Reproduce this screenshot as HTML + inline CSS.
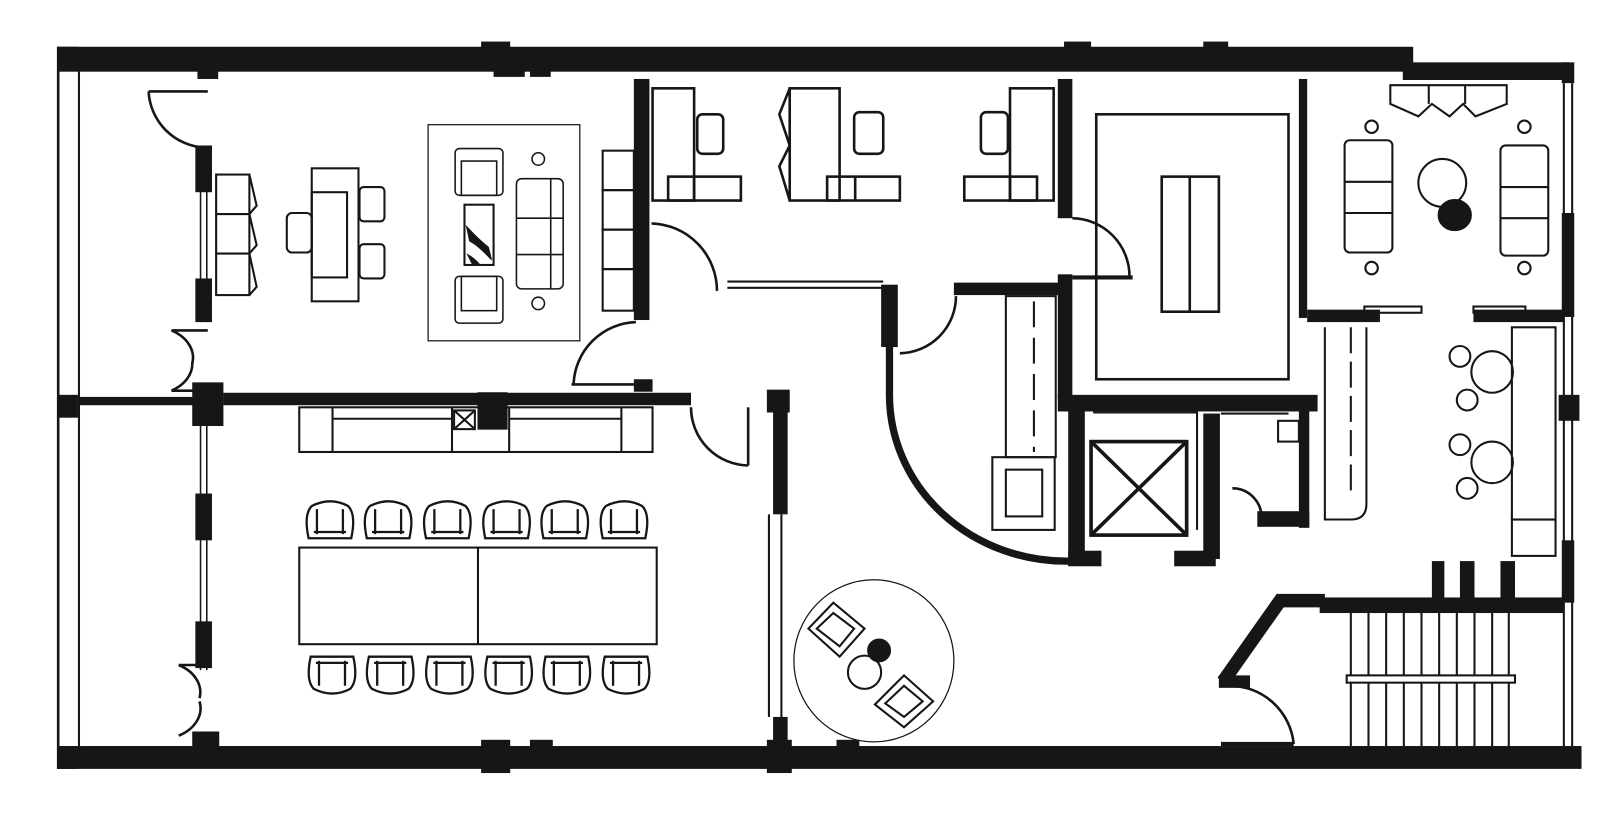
<!DOCTYPE html>
<html><head><meta charset="utf-8"><style>html,body{margin:0;padding:0;background:#fff}svg{display:block}</style></head>
<body>
<svg width="1621" height="825" viewBox="0 0 1560 794" preserveAspectRatio="none" xmlns="http://www.w3.org/2000/svg">
<g fill="#161616" stroke="none">
<rect x="55" y="45" width="1305" height="24"/>
<rect x="463" y="40" width="28" height="8"/><rect x="1024" y="40" width="26" height="8"/><rect x="1158" y="40" width="24" height="8"/>
<rect x="190" y="66" width="20" height="10"/><rect x="475" y="66" width="30" height="8"/><rect x="510" y="66" width="20" height="8"/>
<rect x="1350" y="60" width="160" height="17"/>
<rect x="1503" y="60" width="12" height="20"/>
<rect x="1503" y="205" width="12" height="100"/><rect x="1500" y="380" width="20" height="25"/>
<rect x="1503" y="520" width="12" height="60"/>
<rect x="55" y="718" width="1467" height="22"/>
<rect x="463" y="712" width="28" height="32"/><rect x="510" y="712" width="22" height="10"/><rect x="738" y="712" width="24" height="32"/><rect x="805" y="712" width="22" height="8"/>
<rect x="55" y="45" width="20" height="15"/><rect x="55" y="380" width="20" height="22"/><rect x="55" y="718" width="20" height="22"/>
<rect x="75" y="382" width="115" height="8"/>
<rect x="215" y="378" width="450" height="12"/>
<rect x="185" y="368" width="30" height="42"/>
<rect x="462" y="378" width="25" height="35"/>
<rect x="185" y="704" width="26" height="16"/>
<rect x="188" y="140" width="16" height="45"/><rect x="188" y="268" width="16" height="42"/>
<rect x="188" y="475" width="16" height="45"/><rect x="188" y="598" width="16" height="45"/>
<rect x="610" y="76" width="15" height="232"/>
<rect x="610" y="365" width="18" height="12"/>
<rect x="1018" y="76" width="14" height="134"/>
<rect x="1018" y="264" width="14" height="120"/>
<rect x="918" y="272" width="102" height="12"/>
<rect x="848" y="274" width="16" height="60"/>
<rect x="1018" y="380" width="250" height="16"/>
<rect x="1250" y="76" width="8" height="230"/>
<rect x="1258" y="298" width="70" height="12"/>
<rect x="1418" y="298" width="87" height="12"/>
<rect x="1028" y="384" width="16" height="160"/>
<rect x="1028" y="530" width="32" height="15"/>
<rect x="1130" y="530" width="40" height="15"/>
<rect x="1158" y="398" width="16" height="140"/>
<rect x="1250" y="388" width="10" height="120"/>
<rect x="1210" y="492" width="50" height="15"/>
<rect x="738" y="375" width="22" height="22"/>
<rect x="744" y="395" width="14" height="100"/>
<rect x="744" y="690" width="14" height="30"/>
<rect x="1270" y="575" width="235" height="15"/>
<rect x="1378" y="540" width="12" height="40"/><rect x="1405" y="540" width="14" height="40"/><rect x="1444" y="540" width="14" height="40"/>
<rect x="1173" y="650" width="30" height="12"/>
</g>
<g fill="none" stroke="#161616">
<line x1="56" y1="45" x2="56" y2="740" stroke-width="2.5"/>
<line x1="76" y1="60" x2="76" y2="720" stroke-width="2"/>
<g stroke-width="1.5"><line x1="193" y1="140" x2="193" y2="310"/><line x1="199" y1="140" x2="199" y2="310"/><line x1="193" y1="410" x2="193" y2="645"/><line x1="199" y1="410" x2="199" y2="645"/></g>
<g stroke-width="2.5">
<path d="M143 88 L200 88"/><path d="M143 88 A57 57 0 0 0 197 142"/>
<path d="M165 318 L200 318"/><path d="M165 318 A40 30 0 0 1 185 350"/><path d="M165 376 A40 30 0 0 0 185 348"/><path d="M165 376 L200 376"/>
<path d="M172 640 L200 640"/><path d="M172 640 A40 30 0 0 1 192 672"/><path d="M172 708 A40 30 0 0 0 192 675"/>
<path d="M550 370 L625 370"/><path d="M552 370 A62 62 0 0 1 612 310"/>
<path d="M627 215 A65 65 0 0 1 690 280"/>
<path d="M665 392 A56 56 0 0 0 720 448"/><line x1="720" y1="392" x2="720" y2="448"/>
<path d="M866 340 A55 55 0 0 0 920 285"/>
<path d="M1032 210 A56 56 0 0 1 1087 266"/><line x1="1032" y1="267" x2="1090" y2="267" stroke-width="4"/>
<path d="M1186 470 A28 28 0 0 1 1214 500"/>
<path d="M1183 660 A62 62 0 0 1 1245 716"/><line x1="1175" y1="716" x2="1245" y2="716" stroke-width="4"/>
</g>
<g stroke-width="2"><line x1="700" y1="271" x2="850" y2="271"/><line x1="700" y1="277" x2="850" y2="277"/><line x1="740" y1="495" x2="740" y2="690"/><line x1="752" y1="495" x2="752" y2="690"/>
<line x1="1505" y1="80" x2="1505" y2="720"/><line x1="1513" y1="80" x2="1513" y2="720"/></g>
<path d="M856 330 L856 380 A170 160 0 0 0 1030 540" stroke-width="7"/>
<g stroke-width="2">
<rect x="208" y="168" width="32" height="38"/><rect x="208" y="206" width="32" height="38"/><rect x="208" y="244" width="32" height="40"/>
<path d="M240 168 L247 198 L240 206 M240 206 L247 236 L240 244 M240 244 L247 276 L240 284"/>
<rect x="300" y="162" width="45" height="128"/><rect x="300" y="185" width="34" height="82"/>
<rect x="346" y="180" width="24" height="33" rx="4"/><rect x="346" y="235" width="24" height="33" rx="4"/>
<rect x="276" y="205" width="24" height="38" rx="5"/>
<rect x="580" y="145" width="30" height="38"/><rect x="580" y="183" width="30" height="38"/><rect x="580" y="221" width="30" height="38"/><rect x="580" y="259" width="30" height="40"/>
</g>
<rect x="412" y="120" width="146" height="208" stroke-width="1.2"/>
<g stroke-width="1.5">
<rect x="438" y="143" width="46" height="45" rx="4"/><rect x="444" y="155" width="34" height="33"/>
<rect x="438" y="266" width="46" height="45" rx="4"/><rect x="444" y="266" width="34" height="33"/>
<rect x="497" y="172" width="45" height="106" rx="5"/><line x1="497" y1="210" x2="542" y2="210"/><line x1="497" y1="245" x2="542" y2="245"/><line x1="530" y1="172" x2="530" y2="278"/>
<rect x="447" y="197" width="28" height="58" stroke-width="2"/>
<circle cx="518" cy="153" r="6"/><circle cx="518" cy="292" r="6"/>
</g>
<path d="M449 218 Q460 230 470 238 L473 250 Q460 236 452 232 Z M450 245 Q456 248 462 255 L455 255 Z" fill="#161616"/>
<g stroke-width="2.5">
<rect x="628" y="85" width="40" height="108"/><rect x="643" y="170" width="70" height="23"/><line x1="668" y1="170" x2="668" y2="193"/>
<rect x="671" y="110" width="25" height="38" rx="5"/>
<rect x="760" y="85" width="48" height="108"/><rect x="796" y="170" width="70" height="23"/><line x1="823" y1="170" x2="823" y2="193"/>
<rect x="822" y="108" width="28" height="40" rx="5"/>
<path d="M760 85 L750 110 L760 140 L750 160 L760 193"/>
<rect x="972" y="85" width="42" height="108"/><rect x="928" y="170" width="70" height="23"/><line x1="972" y1="170" x2="972" y2="193"/>
<rect x="944" y="108" width="26" height="40" rx="5"/>
</g>
<g stroke-width="2.5">
<rect x="1055" y="110" width="185" height="255"/>
<rect x="1118" y="170" width="55" height="130"/><line x1="1145" y1="170" x2="1145" y2="300"/>
</g>
<g stroke-width="2">
<path d="M1338 82 L1450 82 L1450 100 L1420 112 L1408 100 L1395 112 L1378 100 L1365 112 L1338 100 Z"/><line x1="1375" y1="82" x2="1375" y2="100"/><line x1="1410" y1="82" x2="1410" y2="100"/>
<rect x="1294" y="135" width="46" height="108" rx="5"/><line x1="1294" y1="175" x2="1340" y2="175"/><line x1="1294" y1="205" x2="1340" y2="205"/>
<rect x="1444" y="140" width="46" height="106" rx="5"/><line x1="1444" y1="180" x2="1490" y2="180"/><line x1="1444" y1="210" x2="1490" y2="210"/>
<circle cx="1388" cy="176" r="23"/>
<circle cx="1320" cy="122" r="6"/><circle cx="1467" cy="122" r="6"/><circle cx="1320" cy="258" r="6"/><circle cx="1467" cy="258" r="6"/>
<rect x="1313" y="295" width="55" height="6"/><rect x="1418" y="295" width="50" height="6"/>
</g>
<ellipse cx="1400" cy="207" rx="16" ry="15" fill="#161616"/>
<g stroke-width="2">
<path d="M1275 315 L1275 500 L1300 500 Q1315 500 1315 485 L1315 315"/><line x1="1300" y1="315" x2="1300" y2="480" stroke-dasharray="25 8"/>
<rect x="1455" y="315" width="42" height="185"/><rect x="1455" y="500" width="42" height="35"/>
<circle cx="1436" cy="358" r="20"/><circle cx="1436" cy="445" r="20"/>
<circle cx="1405" cy="343" r="10"/><circle cx="1412" cy="385" r="10"/><circle cx="1405" cy="428" r="10"/><circle cx="1412" cy="470" r="10"/>
</g>
<g stroke-width="2">
<rect x="968" y="285" width="48" height="155"/><line x1="995" y1="290" x2="995" y2="435" stroke-dasharray="25 10"/>
<rect x="955" y="440" width="60" height="70"/><rect x="968" y="452" width="35" height="45"/>
<rect x="1230" y="405" width="20" height="20"/>
<path d="M1052 397 L1152 397 L1152 510 M1175 398 L1240 398"/>
</g>
<g stroke-width="3.5"><rect x="1050" y="425" width="92" height="90"/><line x1="1050" y1="425" x2="1142" y2="515"/><line x1="1142" y1="425" x2="1050" y2="515"/></g>
<path d="M1177 656 L1232 578 L1275 578" stroke="#161616" stroke-width="13"/>
<g stroke-width="2">
<line x1="1300" y1="590" x2="1300" y2="718"/><line x1="1317" y1="590" x2="1317" y2="718"/><line x1="1334" y1="590" x2="1334" y2="718"/><line x1="1351" y1="590" x2="1351" y2="718"/><line x1="1368" y1="590" x2="1368" y2="718"/><line x1="1385" y1="590" x2="1385" y2="718"/><line x1="1402" y1="590" x2="1402" y2="718"/><line x1="1419" y1="590" x2="1419" y2="718"/><line x1="1436" y1="590" x2="1436" y2="718"/><line x1="1452" y1="590" x2="1452" y2="718"/>
<rect x="1296" y="650" width="162" height="7" fill="#fff"/>
</g>
<g stroke-width="2">
<rect x="288" y="392" width="340" height="43"/><line x1="320" y1="392" x2="320" y2="435"/><line x1="435" y1="392" x2="435" y2="435"/><line x1="490" y1="392" x2="490" y2="435"/><line x1="598" y1="392" x2="598" y2="435"/><line x1="320" y1="403" x2="435" y2="403"/><line x1="490" y1="403" x2="598" y2="403"/>
<rect x="437" y="395" width="20" height="18"/><line x1="437" y1="395" x2="457" y2="413"/><line x1="457" y1="395" x2="437" y2="413"/>
<rect x="288" y="527" width="344" height="93"/><line x1="460" y1="527" x2="460" y2="620"/>
</g>
<rect x="460" y="378" width="28" height="35" fill="#161616"/>
<g stroke-width="2.2">
<g id="ct"><path d="M297 518 Q292 495 300 487 Q318 478 335 487 Q343 495 338 518 Z"/><line x1="302" y1="512" x2="333" y2="512"/><line x1="305" y1="490" x2="305" y2="514"/><line x1="330" y1="490" x2="330" y2="514"/></g>
<use href="#ct" x="56"/><use href="#ct" x="113"/><use href="#ct" x="170"/><use href="#ct" x="226"/><use href="#ct" x="283"/>
<g id="cb"><path d="M299 632 Q294 655 302 663 Q320 672 337 663 Q345 655 340 632 Z"/><line x1="304" y1="638" x2="335" y2="638"/><line x1="307" y1="636" x2="307" y2="660"/><line x1="332" y1="636" x2="332" y2="660"/></g>
<use href="#cb" x="56"/><use href="#cb" x="113"/><use href="#cb" x="170"/><use href="#cb" x="226"/><use href="#cb" x="283"/>
</g>
<ellipse cx="841" cy="636" rx="77" ry="78" stroke-width="1.2"/>
<g stroke-width="2">
<path d="M778 605 L802 580 L832 605 L808 632 Z"/><path d="M786 605 L802 590 L822 605 L808 622 Z"/>
<path d="M842 678 L870 650 L898 675 L870 700 Z"/><path d="M852 677 L870 660 L888 675 L870 690 Z"/>
<circle cx="832" cy="647" r="16"/>
</g>
<circle cx="846" cy="626" r="11" fill="#161616"/>
</g>
</svg>
</body></html>
